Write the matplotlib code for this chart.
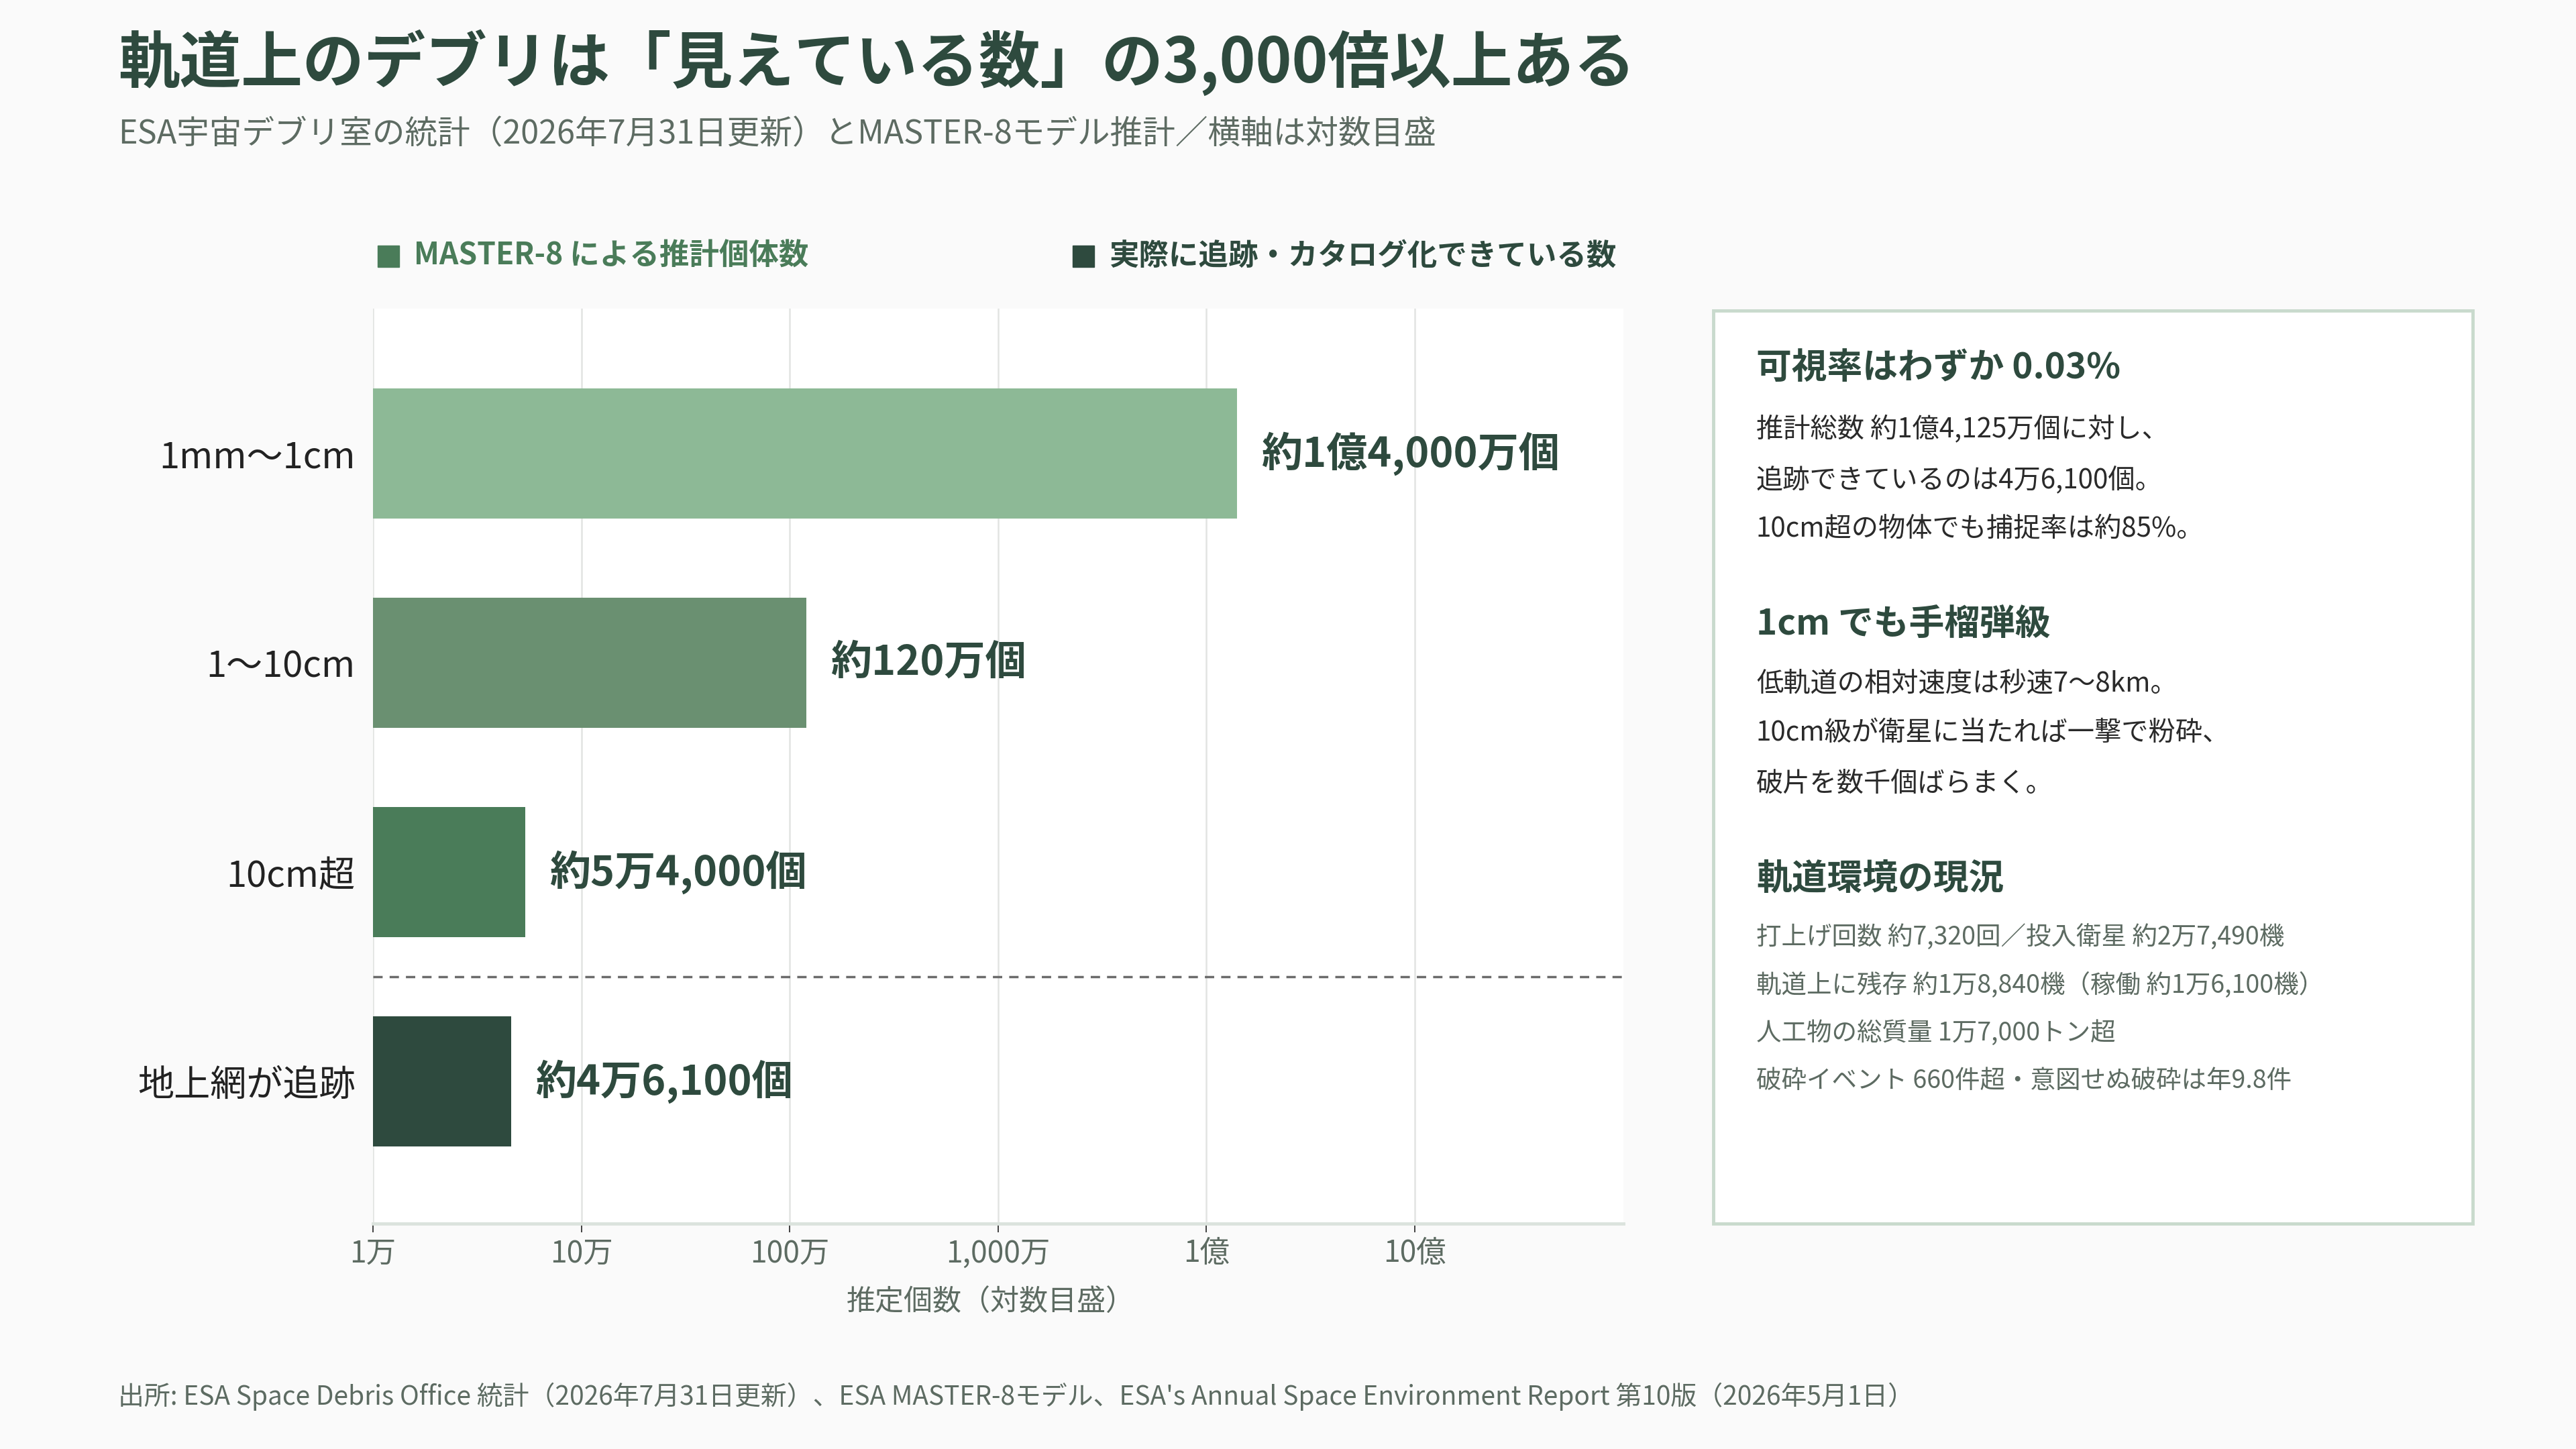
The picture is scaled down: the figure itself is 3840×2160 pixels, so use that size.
import matplotlib
matplotlib.use("Agg")
import matplotlib.pyplot as plt
from matplotlib.patches import Rectangle
import numpy as np

plt.rcParams["font.family"] = ["Noto Sans CJK JP", "DejaVu Sans"]

# Data
categories = ["1mm〜1cm", "1〜10cm", "10cm超", "地上網が追跡"]
counts = [1.4e8, 1.2e6, 5.4e4, 4.61e4]
value_labels = ["約1億4,000万個", "約120万個", "約5万4,000個", "約4万6,100個"]
bar_colors = ["#8db996", "#6a9071", "#4a7c59", "#2e4a3e"]

xticks = [1e4, 1e5, 1e6, 1e7, 1e8, 1e9]
xtick_labels = ["1万", "10万", "100万", "1,000万", "1億", "10億"]

title = "軌道上のデブリは「見えている数」の3,000倍以上ある"
subtitle = "ESA宇宙デブリ室の統計（2026年7月31日更新）とMASTER-8モデル推計／横軸は対数目盛"
legend_labels = ["MASTER-8 による推計個体数", "実際に追跡・カタログ化できている数"]
legend_colors = ["#4a7c59", "#2e4a3e"]
xlabel = "推定個数（対数目盛）"
footer = ("出所: ESA Space Debris Office 統計（2026年7月31日更新）、ESA MASTER-8モデル、"
          "ESA's Annual Space Environment Report 第10版（2026年5月1日）")

panel_heads = ["可視率はわずか 0.03%", "1cm でも手榴弾級", "軌道環境の現況"]
panel_body1 = ["推計総数 約1億4,125万個に対し、",
               "追跡できているのは4万6,100個。",
               "10cm超の物体でも捕捉率は約85%。"]
panel_body2 = ["低軌道の相対速度は秒速7〜8km。",
               "10cm級が衛星に当たれば一撃で粉砕、",
               "破片を数千個ばらまく。"]
panel_body3 = ["打上げ回数 約7,320回／投入衛星 約2万7,490機",
               "軌道上に残存 約1万8,840機（稼働 約1万6,100機）",
               "人工物の総質量 1万7,000トン超",
               "破砕イベント 660件超・意図せぬ破砕は年9.8件"]

dark = "#2e4a3e"
grey = "#5d6b62"

W, H = 1568.0, 882.0  # reference layout units


def fx(x):
    return x / W


def fy(y):
    return 1 - y / H


fig = plt.figure(figsize=(38.4, 21.6), dpi=100)
fig.patch.set_facecolor("#fafafa")

# Titles
fig.text(fx(72), fy(38), title, fontsize=66, fontweight="bold", color=dark,
         va="center", ha="left")
fig.text(fx(72), fy(82), subtitle, fontsize=35, color=grey, va="center", ha="left")

# Legend
for lx, lab, col in zip([230, 653], legend_labels, legend_colors):
    fig.patches.append(Rectangle((fx(lx), fy(162.5)), fx(13), 13 / H,
                                 transform=fig.transFigure, color=col))
    fig.text(fx(lx + 22), fy(156), lab, fontsize=32, fontweight="bold",
             color=col, va="center", ha="left")

# Main axes
ax = fig.add_axes([fx(227), fy(745), fx(988 - 227), (745 - 188) / H])
ax.set_facecolor("white")
ax.set_xscale("log")
xmin, xmax = 1e4, 1e10
ax.set_xlim(xmin, xmax)
ypos = np.arange(len(categories))
ax.set_ylim(3.68, -0.69)

ax.barh(ypos, np.array(counts) - xmin, left=xmin, height=0.62,
        color=bar_colors, zorder=3)

for yy, val, lab in zip(ypos, counts, value_labels):
    ax.annotate(lab, (val, yy), xytext=(26, 0), textcoords="offset points",
                fontsize=44, fontweight="bold", color=dark, va="center", ha="left")

ax.axhline(2.5, color="#6b6b6b", linewidth=2.5, linestyle=(0, (4, 3)), zorder=4)

ax.set_xticks(xticks)
ax.set_xticklabels(xtick_labels)
ax.xaxis.set_minor_locator(matplotlib.ticker.NullLocator())
ax.tick_params(axis="x", length=9, width=1.2, color="#222222", labelsize=32,
               labelcolor=grey, pad=6)
ax.set_yticks(ypos)
ax.set_yticklabels(categories)
ax.tick_params(axis="y", length=0, labelsize=39, labelcolor="#222222", pad=19)

ax.grid(axis="x", color="#e2e4e2", linewidth=1.8, zorder=0)
for side in ["top", "right", "left"]:
    ax.spines[side].set_visible(False)
ax.spines["bottom"].set_color("#dbe3dd")
ax.spines["bottom"].set_linewidth(3.5)

fig.text(fx(603), fy(793), xlabel, fontsize=31, color=grey, va="center", ha="center")

# Side panel
fig.patches.append(Rectangle((fx(1043), fy(745)), fx(1505 - 1043), (745 - 189) / H,
                             transform=fig.transFigure, facecolor="white",
                             edgecolor="#c9dacd", linewidth=3.5))

tx = fx(1069)
fig.text(tx, fy(224), panel_heads[0], fontsize=38, fontweight="bold", color=dark, va="center")
for yy, line in zip([261, 292, 322], panel_body1):
    fig.text(tx, fy(yy), line, fontsize=29, color="#2a2a2a", va="center")
fig.text(tx, fy(380), panel_heads[1], fontsize=38, fontweight="bold", color=dark, va="center")
for yy, line in zip([416, 446, 477], panel_body2):
    fig.text(tx, fy(yy), line, fontsize=29, color="#2a2a2a", va="center")
fig.text(tx, fy(535), panel_heads[2], fontsize=38, fontweight="bold", color=dark, va="center")
for yy, line in zip([571, 600, 629, 658], panel_body3):
    fig.text(tx, fy(yy), line, fontsize=27, color=grey, va="center")

# Footer
fig.text(fx(72), fy(850), footer, fontsize=28, color=grey, va="center", ha="left")

fig.savefig("out.png", dpi=100, facecolor=fig.get_facecolor())
